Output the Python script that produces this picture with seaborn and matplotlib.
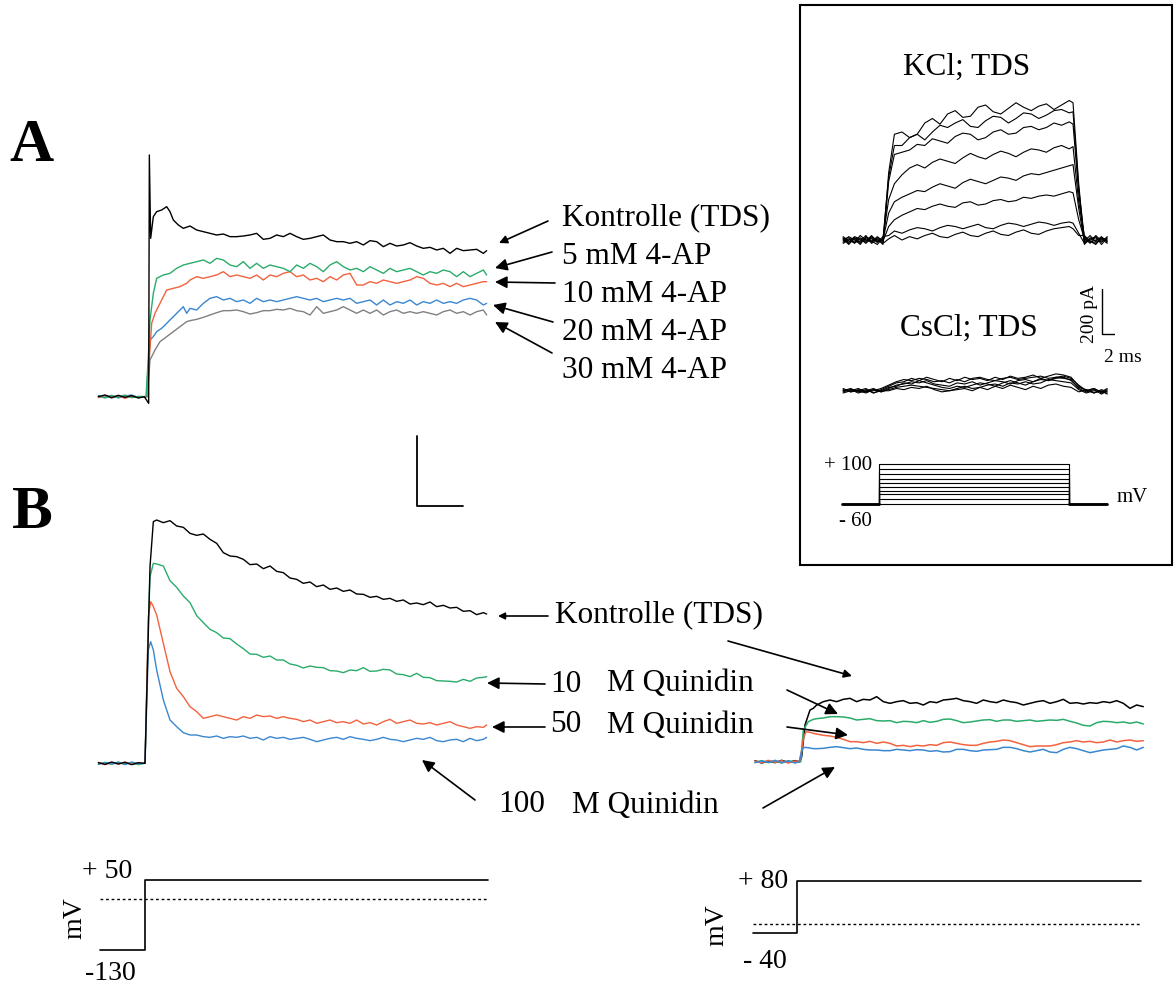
import numpy as np
import pandas as pd
import matplotlib
matplotlib.use("Agg")
import matplotlib.pyplot as plt
import seaborn as sns
from matplotlib.patches import Rectangle

sns.set_theme(style="white")
plt.rcParams["font.family"] = ["Liberation Serif", "DejaVu Serif"]
plt.rcParams["text.color"] = "black"

W, H = 1176, 990
GREEN, RED, BLUE, GREY = "#2bab6b", "#f2623f", "#3b87cf", "#808080"

# ---------------------------------------------------------------------------
# Panel A: 4-AP block (time in samples, current in a.u.)
# ---------------------------------------------------------------------------
t_base_a = [-140, -120, -100, -80, -60, -40, -20]
t_plat_a = list(range(135, 1016, 20)) + [1025]

t_ctrl_a = t_base_a + [-2, 11, 13, 17, 25, 35, 50, 65, 75, 85, 100, 115] + t_plat_a
ctrl_a = [0, 5, -3, 4, -2, 3, -4, 0, -20, 725, 475, 540, 555, 560, 570, 555, 530, 515, 505,
          512, 500, 495, 490, 485, 488, 480, 480, 482, 485, 490, 472, 475, 485, 480, 490,
          480, 472, 475, 480, 485, 470, 465, 465, 460, 465, 455, 468, 465, 450, 460, 452,
          455, 462, 452, 445, 448, 440, 445, 430, 445, 438, 440, 442, 430, 438]

t_ap5_a = t_base_a + [3, 10, 15, 25, 35, 55, 75, 95, 115] + t_plat_a
ap5_a = [2, -4, 3, -2, 5, -3, 1, 0, 120, 230, 310, 355, 365, 370, 385, 395,
         400, 405, 410, 400, 415, 410, 395, 390, 405, 385, 400, 385, 395, 390, 385, 375,
         395, 385, 400, 390, 375, 395, 405, 390, 380, 385, 375, 390, 380, 370, 385, 375,
         380, 385, 375, 365, 375, 370, 380, 375, 360, 375, 360, 370, 380, 365]

t_ap10_a = t_base_a + [7, 10, 20, 30, 45, 55, 65, 85, 105, 125] + t_plat_a
ap10_a = [-3, 4, -1, 3, -5, 2, -2, 0, 70, 220, 250, 280, 300, 320, 325, 330, 340,
          350, 360, 355, 360, 365, 375, 360, 365, 360, 355, 365, 350, 365, 360, 370, 375,
          360, 365, 350, 355, 345, 360, 350, 365, 370, 335, 335, 345, 340, 350, 345, 340,
          345, 350, 360, 355, 340, 335, 340, 330, 340, 330, 335, 340, 345, 345]

t_ap20_a = t_base_a + [5, 7, 15, 25, 35, 50, 65, 75, 90, 105, 115, 125] + t_plat_a
ap20_a = [3, -2, 4, -4, 2, 5, -3, 0, 50, 170, 180, 195, 205, 220, 230, 245, 260, 270, 250,
          265, 260, 280, 295, 300, 290, 295, 285, 290, 280, 295, 285, 290, 285, 290, 295,
          300, 295, 290, 295, 285, 290, 295, 290, 295, 280, 285, 290, 275, 290, 275, 285,
          280, 290, 275, 285, 280, 290, 280, 285, 280, 290, 295, 290, 275, 280]

t_ap30_a = t_base_a + [5, 9, 15, 30, 45, 65, 85, 105, 125] + t_plat_a
ap30_a = [-1, 3, -4, 2, -3, 4, -2, 0, 30, 110, 140, 165, 180, 195, 210, 225,
          228, 232, 238, 245, 252, 258, 258, 260, 255, 248, 252, 258, 258, 262, 260, 265,
          258, 255, 245, 270, 250, 255, 260, 270, 260, 250, 260, 250, 260, 245, 255, 260,
          250, 255, 250, 255, 250, 245, 255, 260, 250, 255, 245, 255, 260, 245]

scale_a = (140, 210)  # horizontal / vertical scale bar length

# ---------------------------------------------------------------------------
# Panel B left: quinidine block
# ---------------------------------------------------------------------------
t_base_b = [-140, -120, -100, -80, -60, -40, -20, -2]
t_plat_b = list(range(35, 1016, 20)) + [1025]

t_ctrl_b = t_base_b + [0, 15, 25] + t_plat_b
ctrl_b = [2, -3, 4, -2, 3, -4, 2, 0, 0, 590, 725,
          730, 722, 728, 712, 708, 690, 684, 688, 672, 660, 632, 622, 620, 612, 596, 598,
          584, 592, 576, 572, 556, 552, 540, 544, 530, 535, 522, 526, 516, 520, 508, 507,
          498, 501, 492, 495, 486, 490, 478, 481, 476, 484, 470, 474, 466, 468, 456, 458,
          446, 452, 448]

t_q10_b = t_base_b + [0, 10, 15, 25] + t_plat_b
q10_b = [-2, 3, -3, 4, -1, 2, -4, 0, 0, 420, 560, 600,
         598, 592, 548, 528, 502, 482, 443, 422, 402, 392, 376, 374, 358, 344, 328, 327,
         318, 322, 310, 310, 298, 294, 286, 292, 288, 287, 278, 277, 272, 280, 278, 287,
         276, 277, 282, 280, 268, 266, 260, 270, 258, 257, 248, 247, 246, 244, 252, 246,
         256, 258, 260]

t_q50_b = t_base_b + [0, 10, 17, 25] + t_plat_b
q50_b = [3, -4, 2, -2, 4, -3, 1, 0, 0, 440, 485, 470,
         445, 360, 275, 225, 200, 170, 155, 135, 140, 145, 140, 135, 130, 140, 135, 145,
         140, 142, 135, 140, 135, 132, 125, 130, 120, 125, 130, 122, 125, 120, 130, 118,
         122, 115, 125, 132, 120, 125, 130, 120, 118, 122, 115, 120, 125, 115, 110, 105,
         110, 108, 115]

t_q100_b = t_base_b + [0, 10, 17, 25] + t_plat_b
q100_b = [-3, 2, -2, 3, -4, 4, -1, 0, 0, 340, 365, 340,
          280, 190, 130, 110, 92, 85, 85, 80, 78, 82, 75, 80, 78, 82, 75, 78, 70, 80, 75,
          78, 72, 75, 78, 72, 65, 70, 75, 78, 72, 80, 75, 72, 68, 72, 78, 72, 70, 65, 70,
          75, 72, 78, 68, 65, 70, 72, 65, 75, 68, 72, 78]

# ---------------------------------------------------------------------------
# Panel B right: second recording
# ---------------------------------------------------------------------------
t_base_r = [-135, -115, -95, -75, -55, -35, -15, -2]
t_plat_r = list(range(50, 1031, 20))

t_ctrl_r = t_base_r + [0, 5, 15, 30, 40] + t_plat_r
ctrl_r = [3, -4, 2, -3, 4, -2, 3, 0, 0, 15, 110, 155, 160,
          170, 180, 185, 180, 187, 190, 180, 187, 185, 195, 180, 175, 180, 183, 175, 177,
          170, 180, 177, 185, 187, 190, 183, 180, 175, 185, 180, 177, 185, 180, 177, 170,
          175, 180, 183, 175, 180, 187, 175, 177, 173, 177, 175, 180, 177, 183, 175, 160,
          170, 165]

t_q10_r = t_base_r + [2, 10, 25, 40] + t_plat_r
q10_r = [-2, 3, -3, 2, -4, 3, -2, 0, 0, 95, 120, 127,
         129, 131, 135, 135, 134, 131, 125, 127, 129, 123, 122, 123, 117, 121, 120, 117,
         123, 118, 121, 127, 128, 123, 117, 119, 122, 125, 126, 121, 125, 125, 121, 123,
         125, 121, 123, 125, 124, 127, 121, 116, 109, 107, 117, 121, 120, 117, 119, 115,
         119, 113]

t_q50_r = t_base_r + [3, 10, 18, 30, 40] + t_plat_r
q50_r = [2, -3, 4, -2, 3, -4, 2, 0, 20, 70, 90, 88, 85,
         83, 79, 77, 73, 67, 60, 60, 57, 61, 55, 59, 55, 47, 49, 45, 49, 47, 51, 49, 57,
         59, 55, 51, 49, 49, 55, 59, 61, 65, 63, 57, 51, 45, 47, 47, 47, 51, 57, 59, 63,
         59, 61, 57, 59, 65, 59, 63, 65, 61, 63]

t_q100_r = t_base_r + [2, 8, 15, 30, 40] + t_plat_r
q100_r = [-3, 2, -2, 4, -3, 2, -4, 0, 20, 40, 43, 41, 39,
          39, 40, 43, 45, 42, 39, 41, 37, 35, 35, 33, 33, 37, 35, 33, 36, 35, 31, 33, 29,
          30, 37, 37, 33, 31, 35, 36, 37, 43, 43, 39, 33, 29, 33, 37, 29, 27, 37, 43, 39,
          33, 27, 31, 35, 37, 39, 47, 43, 35, 43]

# ---------------------------------------------------------------------------
# Inset: KCl / CsCl families (time in ms, current in pA)
# ---------------------------------------------------------------------------
t_kcl = [-2.1, -1.8, -1.5, -1.2, -0.9, -0.6, -0.3, 0.0, 0.3, 0.6,
         1.0, 1.4, 1.8, 2.2, 2.6, 3.0, 3.4, 3.8, 4.2, 4.6, 5.0, 5.4, 5.8, 6.2, 6.6,
         7.0, 7.4, 7.8, 8.2, 8.6, 9.0, 9.4, 9.8, 10.0, 10.3, 10.6, 10.9, 11.2, 11.5, 11.8]
kcl_traces = [
    [10, -15, 5, -20, 15, -5, 10, -10, 300, 470,
     480, 455, 470, 520, 540, 515, 560, 575, 545, 550, 590, 600, 570, 560, 585, 610,
     590, 575, 595, 605, 580, 600, 620, 610, 250, -20, 10, -5, 15, -10],
    [-10, 5, -15, 10, -5, 20, -10, 5, 280, 420,
     420, 455, 470, 445, 480, 510, 500, 520, 535, 505, 500, 530, 550, 545, 520, 540,
     565, 560, 540, 555, 575, 580, 565, 570, 230, 10, -15, 20, -5, 5],
    [5, 10, -10, -5, 20, -15, 5, -20, 260, 380,
     390, 400, 425, 420, 450, 440, 430, 460, 475, 470, 445, 455, 480, 490, 470, 475,
     500, 505, 490, 500, 520, 510, 525, 515, 210, -5, 20, -10, 5, -15],
    [-15, 0, 10, -10, 5, -5, -20, 10, 180, 250,
     290, 320, 335, 320, 345, 360, 350, 340, 365, 385, 370, 360, 380, 395, 385, 370,
     390, 405, 400, 390, 410, 420, 405, 415, 170, 15, -5, -20, 10, 0],
    [0, -10, 15, 5, -15, 10, -5, 0, 120, 170,
     190, 205, 220, 215, 235, 250, 240, 230, 255, 270, 260, 250, 265, 280, 275, 265,
     285, 295, 290, 300, 310, 320, 330, 335, 140, -10, 5, 15, -20, 10],
    [15, -5, -10, 20, 0, -10, 15, -5, 60, 90,
     110, 125, 140, 135, 150, 160, 150, 145, 165, 170, 155, 160, 175, 180, 170, 175,
     190, 185, 195, 200, 195, 205, 215, 210, 90, 5, -10, 0, 10, -5],
    [-5, 15, 0, -15, 10, 5, -10, 15, 20, 40,
     30, 45, 55, 50, 40, 55, 65, 60, 50, 60, 70, 55, 50, 65, 75, 70,
     60, 70, 80, 75, 65, 75, 80, 75, 30, -15, 0, 10, -10, 15],
    [5, -20, 10, 0, -10, 15, 0, -15, 5, 20,
     0, 15, 5, 20, 30, 15, 10, 25, 35, 20, 15, 30, 40, 25, 20, 35,
     45, 30, 25, 40, 50, 55, 60, 50, 20, 20, -5, -15, 5, -5],
]

t_cs = [-2.1, -1.7, -1.3, -0.9, -0.5, -0.1, 0.3, 0.7, 1.1, 1.5, 1.9, 2.3, 2.7, 3.1,
        3.5, 3.9, 4.3, 4.7, 5.1, 5.5, 5.9, 6.3, 6.7, 7.1, 7.5, 7.9, 8.3, 8.7, 9.1, 9.5,
        9.9, 10.3, 10.7, 11.1, 11.5, 11.8]
cs_traces = [
    [0, 10, -5, 5, -10, 5, 20, 35, 40, 55, 45, 60, 50, 40, 55, 45, 60, 50, 55, 45,
     60, 50, 65, 55, 60, 70, 55, 65, 75, 70, 60, 20, 0, 10, -10, 5],
    [-10, 0, 10, -5, 5, -5, 10, 25, 30, 40, 35, 45, 30, 25, 20, 35, 30, 40, 25, 35,
     45, 40, 30, 45, 50, 40, 55, 45, 60, 55, 50, 10, -5, 5, -15, 0],
    [5, -5, 0, 10, -10, 0, 15, 20, 35, 30, 45, 35, 25, 15, 10, 20, 15, 25, 35, 30,
     20, 35, 45, 35, 25, 40, 50, 45, 55, 60, 45, 15, 5, -10, 5, -5],
    [0, 5, -10, 0, 10, -5, 5, 15, 20, 25, 20, 15, 10, 5, 0, 10, 20, 10, 15, 25,
     30, 20, 35, 30, 40, 30, 35, 50, 45, 40, 35, 5, -10, 0, -5, 10],
    [10, -5, 5, -5, 0, 10, 25, 40, 50, 45, 55, 50, 40, 45, 35, 50, 40, 55, 60, 50,
     45, 55, 60, 50, 55, 60, 65, 55, 60, 65, 55, 25, 0, 10, -5, -10],
    [-5, 5, 0, -10, 5, 0, 0, 10, 5, 15, 10, 20, 5, -5, 0, 5, 10, 0, 15, 5,
     20, 10, 25, 15, 5, 20, 10, 25, 30, 20, 15, -5, 5, -10, 0, -15],
]
scale_inset = (2, 200)  # 2 ms, 200 pA

t_step_inset = [-1.95, 0, 0, 10, 10, 12.0]
v_hold_inset = -60
v_steps_inset = [-60, -40, -20, -5, 10, 25, 40, 60, 80, 100]

# ---------------------------------------------------------------------------
# Voltage protocols under panel B
# ---------------------------------------------------------------------------
t_prot_l = [-135, 0, 0, 1029]
v_prot_l = [-130, -130, 50, 50]
ref_l = 0
t_prot_r = [-142, -8, -8, 1022]
v_prot_r = [-40, -40, 80, 80]
ref_r = -20

labels_a = ["Kontrolle (TDS)", "5 mM 4-AP", "10 mM 4-AP", "20 mM 4-AP", "30 mM 4-AP"]
conc_b = ["10", "50", "100"]

# ---------------------------------------------------------------------------
fig = plt.figure(figsize=(W / 100, H / 100), dpi=100)


def px_axes(x0, y0, x1, y1, xlim, ylim):
    ax = fig.add_axes([x0 / W, 1 - y1 / H, (x1 - x0) / W, (y1 - y0) / H])
    ax.set_xlim(*xlim); ax.set_ylim(*ylim)
    ax.set_axis_off()
    return ax


def trace(ax, t, v, color, lw=1.0, offset=0, ls="-"):
    d = pd.DataFrame({"t": t, "v": np.asarray(v, dtype=float) + offset})
    sns.lineplot(data=d, x="t", y="v", ax=ax, color=color, lw=lw, ls=ls,
                 estimator=None, sort=False)


# panel A
axA = px_axes(90, 140, 500, 520, (-165, 1065), (-370, 770))
for t, v, c in [(t_ap30_a, ap30_a, GREY), (t_ap20_a, ap20_a, BLUE), (t_ap10_a, ap10_a, RED),
                (t_ap5_a, ap5_a, GREEN), (t_ctrl_a, ctrl_a, "black")]:
    trace(axA, t, v, c, lw=1.0)
axA.plot([815, 815, 815 + scale_a[0]], [-328 + scale_a[1], -328, -328], color="black", lw=1.3)

# panel B left
axB = px_axes(90, 500, 510, 790, (-165, 1095), (-80, 790))
for t, v, c in [(t_q10_b, q10_b, GREEN), (t_q50_b, q50_b, RED),
                (t_q100_b, q100_b, BLUE), (t_ctrl_b, ctrl_b, "black")]:
    trace(axB, t, v, c, lw=1.0)

# panel B right
axR = px_axes(740, 660, 1176, 780, (-180, 1128), (-55, 305))
for t, v, c in [(t_ctrl_r, ctrl_r, "black"), (t_q10_r, q10_r, GREEN),
                (t_q50_r, q50_r, RED), (t_q100_r, q100_r, BLUE)]:
    trace(axR, t, v, c, lw=1.1)

# protocols
axPL = px_axes(90, 860, 510, 970, (-165, 1095), (-181.4, 101.4))
trace(axPL, t_prot_l, v_prot_l, "black", lw=1.2)
trace(axPL, [t_prot_l[0], t_prot_l[-1]], [ref_l, ref_l], "black", lw=1.0, ls=(0, (2, 2)))
axPR = px_axes(740, 860, 1176, 970, (-180, 1128), (-124, 127))
trace(axPR, t_prot_r, v_prot_r, "black", lw=1.2)
trace(axPR, [t_prot_r[0], t_prot_r[-1]], [ref_r, ref_r], "black", lw=1.0, ls=(0, (2, 2)))

# inset traces
axI = px_axes(835, 80, 1115, 420, (-2.526, 12.21), (-800, 711.1))
for v in kcl_traces:
    trace(axI, t_kcl, v, "black", lw=0.8)
for v in cs_traces:
    trace(axI, t_cs, v, "black", lw=0.8, offset=-670)
axI.plot([11.53, 11.53, 11.53 + scale_inset[0]],
         [-418 + scale_inset[1], -418, -418], color="black", lw=1.0)

axV = px_axes(831, 450, 1111, 515, (-2.526, 12.21), (-102.8, 157.2))
for lv in v_steps_inset:
    trace(axV, t_step_inset, [v_hold_inset, v_hold_inset, lv, lv, v_hold_inset, v_hold_inset],
          "black", lw=0.8)
trace(axV, t_step_inset[:2], [v_hold_inset] * 2, "black", lw=2.0)
trace(axV, t_step_inset[4:], [v_hold_inset] * 2, "black", lw=2.0)

# overlay: labels, arrows, frame
ov = px_axes(0, 0, W, H, (0, W), (H, 0))
FS = 22.5
ov.add_patch(Rectangle((800, 5), 372, 560, fill=False, lw=1.5, ec="black"))

ov.text(31, 146, "A", fontsize=44, fontweight="bold", ha="center", va="center")
ov.text(32, 513, "B", fontsize=44, fontweight="bold", ha="center", va="center")

ya = [218, 257, 294, 332, 370]
for lab, y in zip(labels_a, ya):
    ov.text(562, y, lab, fontsize=FS, ha="left", va="center")

arrows = [((548, 221), (499, 243), 12), ((552, 252), (495, 268), 18),
          ((555, 283), (495, 282), 18), ((553, 322), (493, 305), 18),
          ((552, 353), (495, 322), 18),
          ((548, 616), (498, 616), 10), ((545, 684), (487, 683), 18),
          ((545, 727), (492, 727), 18), ((475, 800), (422, 760), 18),
          ((728, 641), (852, 676), 12), ((787, 690), (838, 714), 18),
          ((787, 727), (848, 735), 18), ((763, 808), (835, 767), 18)]
for tail, head, ms in arrows:
    ov.annotate("", xy=head, xytext=tail,
                arrowprops=dict(arrowstyle="-|>", color="black", lw=1.2,
                                mutation_scale=ms, shrinkA=0, shrinkB=0))

ov.text(555, 615, "Kontrolle (TDS)", fontsize=FS, ha="left", va="center")
for num, x_num, x_m, y in [(conc_b[0], 550, 607, 684), (conc_b[1], 550, 607, 725),
                           (conc_b[2], 498, 572, 805)]:
    ov.text(x_num, y, num, fontsize=FS, ha="left", va="center")
    ov.text(x_m, y, "M Quinidin", fontsize=FS, ha="left", va="center")

ov.text(967, 67, "KCl; TDS", fontsize=FS, ha="center", va="center")
ov.text(969, 328, "CsCl; TDS", fontsize=FS, ha="center", va="center")
ov.text(1089, 314, "200 pA", fontsize=14, rotation=90, ha="center", va="center")
ov.text(1123, 358, "2 ms", fontsize=14, ha="center", va="center")
ov.text(872, 465, "+ 100", fontsize=15, ha="right", va="center")
ov.text(872, 522, "- 60", fontsize=15, ha="right", va="center")
ov.text(1117, 497, "mV", fontsize=15, ha="left", va="center")

ov.text(107, 871, "+ 50", fontsize=20, ha="center", va="center")
ov.text(110, 973, "-130", fontsize=20, ha="center", va="center")
ov.text(75, 918, "mV", fontsize=20, rotation=90, ha="center", va="center")
ov.text(763, 882, "+ 80", fontsize=20, ha="center", va="center")
ov.text(765, 962, "- 40", fontsize=20, ha="center", va="center")
ov.text(717, 925, "mV", fontsize=20, rotation=90, ha="center", va="center")

fig.savefig("out.png", dpi=100)
